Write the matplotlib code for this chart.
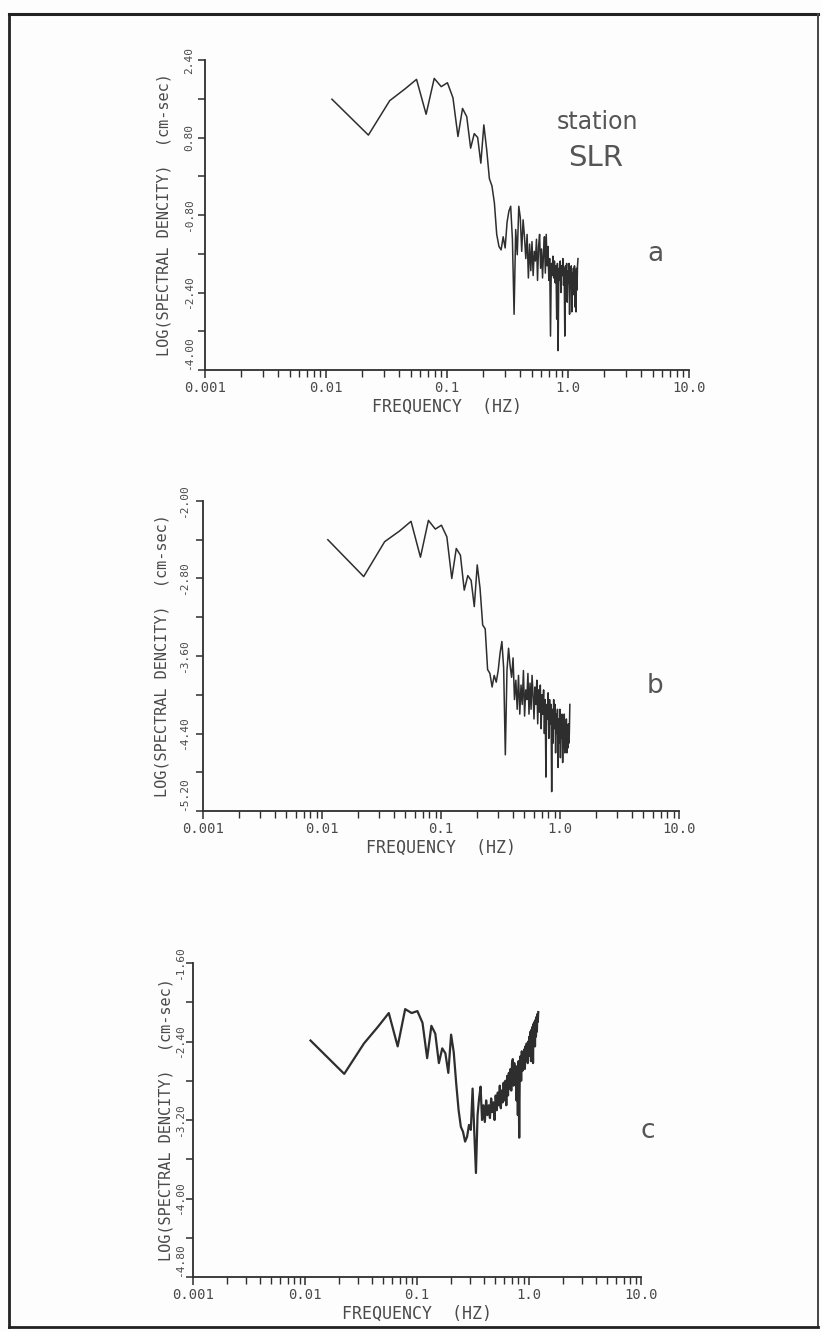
import matplotlib
matplotlib.use('Agg')
import matplotlib.pyplot as plt
from matplotlib.ticker import FixedLocator, LogLocator, NullFormatter

W, H = 822, 1332
INK = '#2e2e2e'
GREY = '#4a4a4a'

# ── spectrum bins (Hz), shared by the three panels ─────────────────────────
freq = [0.0112, 0.0224, 0.0336, 0.0448, 0.056, 0.0672, 0.0784, 0.0896, 0.1008, 0.112,
        0.1232, 0.1344, 0.1456, 0.1568, 0.168, 0.1792, 0.1904, 0.2016, 0.2128, 0.224,
        0.2352, 0.2464, 0.2576, 0.2688, 0.28, 0.2912, 0.3024, 0.3136, 0.3248, 0.336,
        0.3472, 0.3584, 0.3696, 0.3808, 0.392, 0.4032, 0.4144, 0.4256, 0.4368, 0.448,
        0.4592, 0.4704, 0.4816, 0.4928, 0.504, 0.5152, 0.5264, 0.5376, 0.5488, 0.56,
        0.5712, 0.5824, 0.5936, 0.6048, 0.616, 0.6272, 0.6384, 0.6496, 0.6608, 0.672,
        0.6832, 0.6944, 0.7056, 0.7168, 0.728, 0.7392, 0.7504, 0.7616, 0.7728, 0.784,
        0.7952, 0.8064, 0.8176, 0.8288, 0.84, 0.8512, 0.8624, 0.8736, 0.8848, 0.896,
        0.9072, 0.9184, 0.9296, 0.9408, 0.952, 0.9632, 0.9744, 0.9856, 0.9968, 1.008,
        1.0192, 1.0304, 1.0416, 1.0528, 1.064, 1.0752, 1.0864, 1.0976, 1.1088, 1.12,
        1.1312, 1.1424, 1.1536, 1.1648, 1.176, 1.1872, 1.1984, 1.2096]

# log spectral density, panel a
spec_a = [1.59, 0.85, 1.56, 1.80, 2.00, 1.28, 2.02, 1.85, 1.93, 1.62,
          0.82, 1.40, 1.23, 0.58, 0.88, 0.80, 0.27, 1.06, 0.55, -0.05,
          -0.20, -0.55, -1.20, -1.45, -1.52, -1.25, -1.48, -0.95, -0.72, -0.62,
          -1.30, -2.85, -1.10, -1.62, -0.62, -0.85, -1.55, -0.90, -1.25, -1.70,
          -1.20, -2.10, -1.40, -1.95, -1.35, -2.05, -1.55, -1.75, -1.30, -2.15,
          -1.45, -1.20, -1.90, -1.50, -2.10, -1.60, -1.25, -2.00, -1.20, -1.85,
          -1.45, -2.15, -1.70, -3.30, -1.80, -2.05, -1.65, -2.10, -1.75, -2.20,
          -1.85, -2.95, -1.80, -3.60, -1.90, -2.15, -1.75, -2.40, -1.85, -2.05,
          -1.70, -2.25, -1.90, -3.30, -1.85, -2.10, -1.80, -2.60, -1.95, -2.20,
          -1.80, -2.85, -1.95, -2.30, -1.85, -2.80, -2.00, -2.45, -1.90, -2.30,
          -1.85, -2.70, -1.95, -2.80, -1.90, -2.35, -1.85, -1.70]

# panel b
spec_b = [-2.40, -2.78, -2.42, -2.31, -2.21, -2.58, -2.20, -2.29, -2.25, -2.37,
          -2.80, -2.49, -2.56, -2.92, -2.77, -2.82, -3.09, -2.66, -2.90, -3.28,
          -3.32, -3.74, -3.78, -3.92, -3.80, -3.87, -3.75, -3.57, -3.45, -3.72,
          -4.62, -3.75, -3.52, -3.70, -3.82, -3.62, -4.05, -3.85, -4.15, -3.80,
          -4.20, -3.90, -4.10, -3.75, -4.22, -3.95, -4.05, -3.78, -4.20, -3.88,
          -4.15, -3.80, -4.00, -4.25, -3.92, -4.10, -3.85, -4.30, -3.95, -4.18,
          -3.90, -4.35, -4.00, -4.20, -3.95, -4.40, -4.05, -4.85, -4.10, -4.25,
          -3.98, -4.45, -4.05, -4.30, -4.10, -5.00, -4.15, -4.50, -4.05, -4.35,
          -4.10, -4.60, -4.20, -4.40, -4.15, -4.75, -4.25, -4.50, -4.15, -4.65,
          -4.30, -4.45, -4.20, -4.70, -4.35, -4.55, -4.20, -4.60, -4.30, -4.50,
          -4.25, -4.60, -4.35, -4.55, -4.30, -4.50, -4.40, -4.10]

# panel c
spec_c = [-2.39, -2.73, -2.42, -2.25, -2.11, -2.45, -2.07, -2.11, -2.09, -2.21,
          -2.57, -2.24, -2.32, -2.62, -2.47, -2.52, -2.72, -2.33, -2.51, -2.83,
          -3.10, -3.27, -3.32, -3.42, -3.37, -3.25, -3.30, -2.88, -3.33, -3.74,
          -3.15, -2.98, -2.86, -3.20, -3.05, -3.22, -3.00, -3.15, -3.05, -3.18,
          -2.98, -3.12, -3.02, -3.20, -2.95, -3.10, -2.92, -3.05, -2.85, -3.08,
          -2.90, -3.02, -2.82, -3.00, -2.80, -3.05, -2.75, -2.95, -2.72, -2.88,
          -2.68, -2.90, -2.62, -2.58, -2.85, -2.62, -2.78, -2.65, -3.00, -2.70,
          -3.15, -2.60, -3.38, -2.62, -2.55, -2.80, -2.50, -2.70, -2.55, -2.62,
          -2.48, -2.68, -2.45, -2.58, -2.42, -2.45, -2.62, -2.40, -2.55, -2.35,
          -2.50, -2.30, -2.60, -2.28, -2.45, -2.25, -2.62, -2.22, -2.40, -2.20,
          -2.45, -2.18, -2.35, -2.15, -2.30, -2.12, -2.20, -2.10]

xticks = [0.001, 0.01, 0.1, 1.0, 10.0]
xticklabels = ['0.001', '0.01', '0.1', '1.0', '10.0']

yticks_a = [-4.00, -2.40, -0.80, 0.80, 2.40]
yticks_b = [-5.20, -4.40, -3.60, -2.80, -2.00]
yticks_c = [-4.80, -4.00, -3.20, -2.40, -1.60]

fig = plt.figure(figsize=(W / 100, H / 100), dpi=100, facecolor='#fdfdfd')

# page frame + free text in pixel coordinates
bg = fig.add_axes([0, 0, 1, 1])
bg.set_xlim(0, W)
bg.set_ylim(H, 0)
bg.axis('off')
bg.plot([9, 818], [14, 14], color='#222222', lw=2.2)
bg.plot([9, 9], [14, 1327], color='#222222', lw=2.0)
bg.plot([818, 818], [14, 1327], color='#444444', lw=1.4)
bg.plot([9, 818], [1327, 1327], color='#222222', lw=2.0)

bg.text(597, 122, 'station', fontsize=17, color='#555555', ha='center', va='center',
        family='DejaVu Sans')
bg.text(596, 158, 'SLR', fontsize=21, color='#555555', ha='center', va='center',
        family='DejaVu Sans')

mono = 'DejaVu Sans Mono'


def panel(left, right, top, bottom, y, ylo, yhi, yticks, step, tag, tagxy, lw,
          ypad=3, ylpad=3):
    ax = fig.add_axes([left / W, 1 - bottom / H, (right - left) / W, (bottom - top) / H])
    ax.set_facecolor('none')
    ax.plot(freq, y, color=INK, lw=lw, clip_on=False)
    ax.set_xscale('log')
    ax.set_xlim(0.001, 10)
    ax.set_ylim(ylo, yhi)
    for s in ['top', 'right']:
        ax.spines[s].set_visible(False)
    for s in ['left', 'bottom']:
        ax.spines[s].set_color(INK)
        ax.spines[s].set_linewidth(1.3)
    ax.xaxis.set_major_locator(FixedLocator(xticks))
    ax.set_xticklabels(xticklabels, family=mono, fontsize=10, color=GREY)
    ax.xaxis.set_minor_locator(LogLocator(base=10, subs=[2, 3, 4, 5, 6, 7, 8, 9]))
    ax.xaxis.set_minor_formatter(NullFormatter())
    ax.tick_params(axis='x', which='major', length=6, width=1.1, color=INK, pad=2)
    ax.tick_params(axis='x', which='minor', length=5, width=1.0, color=INK)
    ax.yaxis.set_major_locator(FixedLocator(yticks))
    labels = ax.set_yticklabels([f'{v:.2f}' for v in yticks], family=mono, fontsize=8,
                                color=GREY, rotation=90, va='center')
    # lowest label sits above the corner, clear of the x labels
    labels[0].set_va('bottom')
    ax.yaxis.set_minor_locator(FixedLocator([v + step for v in yticks[:-1]]))
    ax.tick_params(axis='y', which='both', length=5, width=1.1, color=INK, pad=ypad)
    ax.set_xlabel('FREQUENCY  (HZ)', family=mono, fontsize=12, color=GREY, labelpad=2)
    ax.set_ylabel('LOG(SPECTRAL DENCITY)  (cm-sec)', family=mono, fontsize=11,
                  color=GREY, labelpad=ylpad)
    bg.text(tagxy[0], tagxy[1], tag, fontsize=19, color='#555555', ha='center',
            va='center', family='DejaVu Sans')
    return ax


panel(205, 689, 60, 370, spec_a, -4.0, 2.4, yticks_a, 0.8, 'a', (655, 254), 1.1,
      ypad=3, ylpad=9)
panel(203, 679, 501, 811, spec_b, -5.2, -2.0, yticks_b, 0.4, 'b', (655, 686), 1.1,
      ypad=5, ylpad=7)
panel(193, 641, 963, 1277, spec_c, -4.8, -1.6, yticks_c, 0.4, 'c', (648, 1131), 1.6,
      ypad=1, ylpad=1)

fig.savefig('out.png', dpi=100, facecolor=fig.get_facecolor())
